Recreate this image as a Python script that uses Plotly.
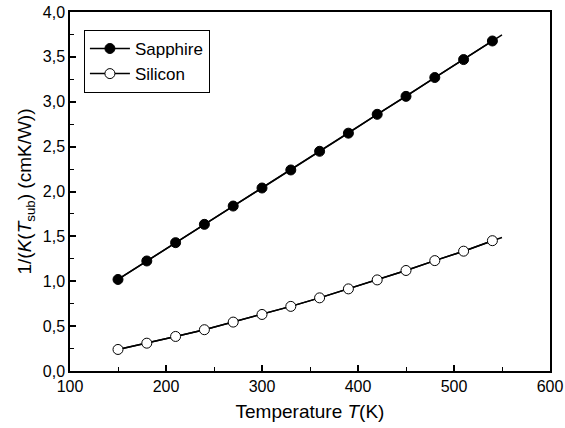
import plotly.graph_objects as go

temperature = [150, 180, 210, 240, 270, 300, 330, 360, 390, 420, 450, 480, 510, 540]
sapphire = [1.02, 1.226, 1.43, 1.634, 1.838, 2.039, 2.24, 2.448, 2.65, 2.86, 3.06, 3.27, 3.47, 3.677]
silicon = [0.24, 0.31, 0.385, 0.46, 0.545, 0.63, 0.72, 0.815, 0.915, 1.015, 1.12, 1.23, 1.335, 1.452]

sapphire_fit_T = [150, 550]
sapphire_fit = [1.02, 3.745]
silicon_fit_T = temperature + [550]
silicon_fit = silicon + [1.487]

font_family = "Liberation Sans, Arial, sans-serif"

fig = go.Figure()
fig.add_trace(go.Scatter(x=sapphire_fit_T, y=sapphire_fit, mode="lines",
                         line=dict(color="black", width=1.5), showlegend=False, hoverinfo="skip"))
fig.add_trace(go.Scatter(x=silicon_fit_T, y=silicon_fit, mode="lines",
                         line=dict(color="black", width=1.5), showlegend=False, hoverinfo="skip"))
fig.add_trace(go.Scatter(x=temperature, y=sapphire, mode="lines+markers", name="Sapphire",
                         line=dict(color="black", width=1.5),
                         marker=dict(symbol="circle", size=10, color="black",
                                     line=dict(color="black", width=1))))
fig.add_trace(go.Scatter(x=temperature, y=silicon, mode="lines+markers", name="Silicon",
                         line=dict(color="black", width=1.5),
                         marker=dict(symbol="circle", size=10, color="white",
                                     line=dict(color="black", width=1))))

axis_common = dict(showline=True, linecolor="black", linewidth=1.5, mirror=True,
                   ticks="inside", ticklen=6, tickwidth=1.5, tickcolor="black",
                   showgrid=False, zeroline=False, automargin=False,
                   tickfont=dict(family=font_family, size=16, color="black"))

fig.update_xaxes(range=[100, 600], dtick=100, tick0=100,
                 minor=dict(dtick=50, ticks="inside", ticklen=4, tickwidth=1, tickcolor="black"),
                 title=dict(text="Temperature <i>T</i>(K)",
                            font=dict(family=font_family, size=19, color="black"), standoff=11),
                 **axis_common)
fig.update_yaxes(range=[0, 4], dtick=0.5, tick0=0, tickformat=".1f",
                 minor=dict(dtick=0.25, ticks="inside", ticklen=4, tickwidth=1, tickcolor="black"),
                 title=dict(text="1/(<i>K</i>(<i>T</i><sub>sub</sub>) (cmK/W))",
                            font=dict(family=font_family, size=19, color="black"), standoff=6),
                 **axis_common)

fig.update_layout(
    width=565, height=428,
    margin=dict(l=70, r=15, t=12, b=57),
    paper_bgcolor="white", plot_bgcolor="white",
    separators=",.",
    legend=dict(x=0.029, y=0.95, xanchor="left", yanchor="top",
                bgcolor="white", bordercolor="black", borderwidth=1,
                font=dict(family=font_family, size=17, color="black"),
                tracegroupgap=0, itemwidth=40),
    showlegend=True,
)

fig.write_html("out.html", config={"displayModeBar": False},
               post_script="document.body.style.margin='0';")
